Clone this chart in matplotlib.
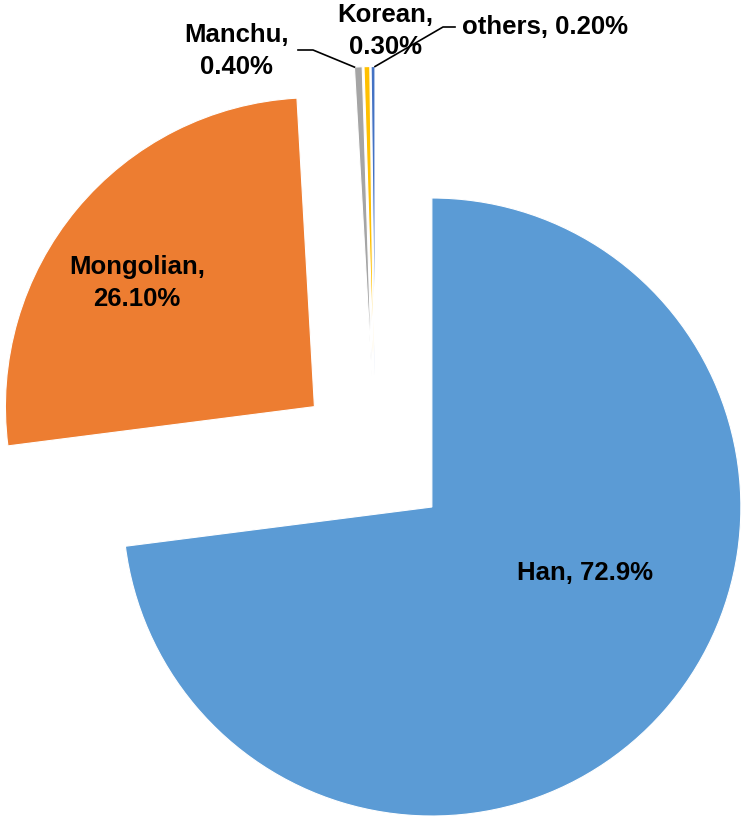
import numpy as np
import matplotlib.pyplot as plt

plt.rcParams['font.family'] = ['Liberation Sans', 'DejaVu Sans']

groups = ['Han', 'Mongolian', 'Manchu', 'Korean', 'others']
shares = [72.9, 26.1, 0.4, 0.3, 0.2]
share_text = ['72.9%', '26.10%', '0.40%', '0.30%', '0.20%']
colors = ['#5B9BD5', '#ED7D31', '#A5A5A5', '#FFC000', '#4472C4']
explode = [0.243, 0.257, 0.265, 0.265, 0.265]

# pixel layout of the reference: pie centre and radius
cx, cy, rad = 375.5, 457.4, 309.0
W, H = 750, 825


def px(x, y):
    # reference pixel -> data units
    return (x - cx) / rad, (cy - y) / rad


fig = plt.figure(figsize=(W / 100, H / 100), dpi=100)
ax = fig.add_axes([0, 0, 1, 1])
wedges, _ = ax.pie(shares, colors=colors, explode=explode, startangle=90,
                   counterclock=False, radius=1,
                   wedgeprops=dict(edgecolor='white', linewidth=0.8))
x0, y1 = px(0, 0)
x1, y0 = px(W, H)
ax.set_xlim(x0, x1)
ax.set_ylim(y0, y1)
ax.set_aspect('equal')
ax.axis('off')

fs = 18.5
kw = dict(fontsize=fs, fontweight='bold', color='black', ha='center', va='center')

ax.text(*px(585, 573), f'{groups[0]}, {share_text[0]}', **kw)
ax.text(*px(137, 283), f'{groups[1]},\n{share_text[1]}', linespacing=1.4, **kw)
ax.text(*px(236, 51), f'{groups[2]},\n{share_text[2]}', linespacing=1.4, **kw)
ax.text(*px(385, 31), f'{groups[3]},\n{share_text[3]}', linespacing=1.4, **kw)
ax.text(*px(462, 27), f'{groups[4]}, {share_text[4]}',
        fontsize=fs, fontweight='bold', ha='left', va='center')


def tip(w, theta):
    c = w.center
    t = np.deg2rad(theta)
    return c[0] + w.r * np.cos(t), c[1] + w.r * np.sin(t)


# leader lines
mx, my = tip(wedges[2], wedges[2].theta2)
a, b = px(298, 50)
c, d = px(313, 50)
ax.plot([a, c, mx], [b, d, my], color='black', lw=1.2)

ox, oy = tip(wedges[4], wedges[4].theta1)
a, b = px(443, 27)
c, d = px(455, 27)
ax.plot([ox, a, c], [oy, b, d], color='black', lw=1.2)

fig.savefig('out.png', dpi=100)
